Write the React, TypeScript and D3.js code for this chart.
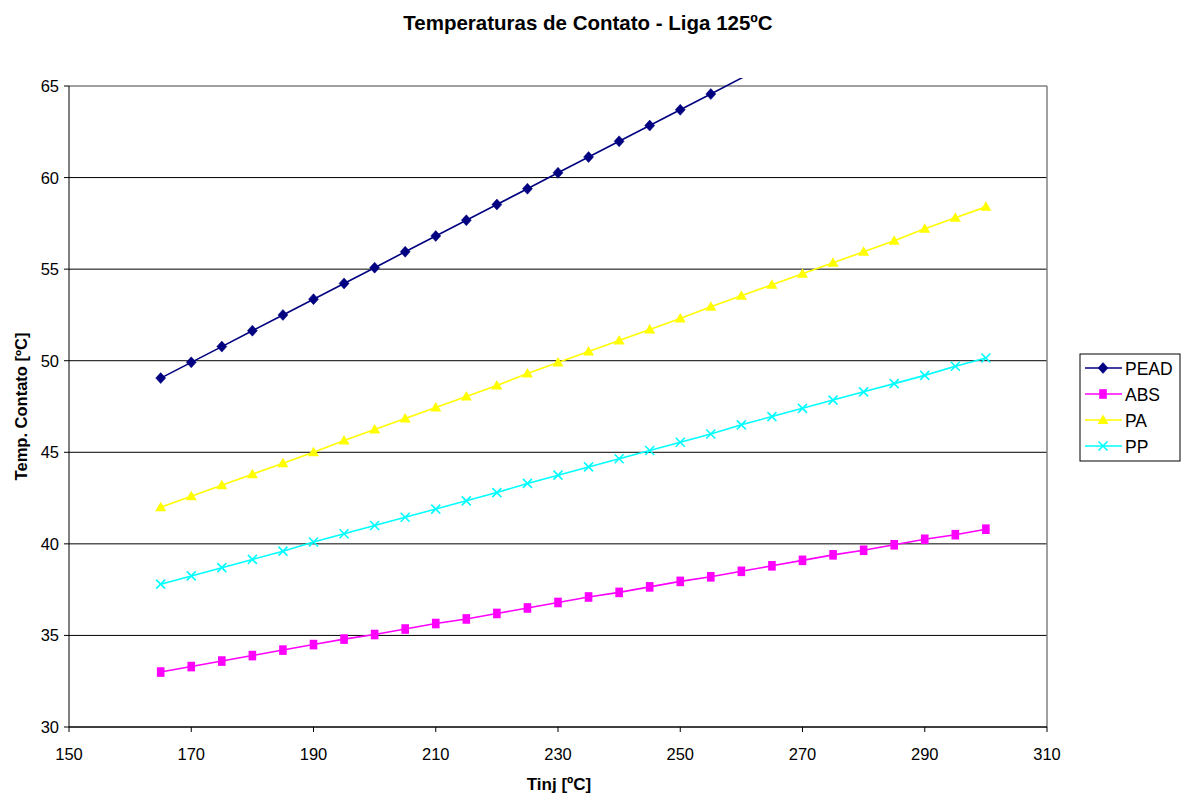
import React from "react";
import * as d3 from "d3";

// Injection temperature (°C) for each measured point
const tinj = [165, 170, 175, 180, 185, 190, 195, 200, 205, 210, 215, 220, 225, 230, 235, 240, 245, 250, 255, 260, 265, 270, 275, 280, 285, 290, 295, 300];

// Contact temperatures (°C) per polymer
const pead = [49.05, 49.91, 50.77, 51.64, 52.5, 53.36, 54.22, 55.08, 55.95, 56.81, 57.67, 58.53, 59.39, 60.26, 61.12, 61.98, 62.84, 63.7, 64.56, 65.43, 66.29, 67.15, 68.01, 68.88, 69.74, 70.6, 71.46, 72.32];
const abs = [33.0, 33.3, 33.6, 33.9, 34.2, 34.5, 34.8, 35.05, 35.35, 35.65, 35.9, 36.2, 36.5, 36.8, 37.1, 37.35, 37.65, 37.95, 38.2, 38.5, 38.8, 39.1, 39.4, 39.65, 39.95, 40.25, 40.5, 40.8];
const pa = [42.0, 42.6, 43.2, 43.8, 44.4, 45.0, 45.65, 46.25, 46.85, 47.45, 48.05, 48.65, 49.3, 49.9, 50.5, 51.1, 51.7, 52.3, 52.95, 53.55, 54.15, 54.75, 55.35, 55.95, 56.55, 57.2, 57.8, 58.4];
const pp = [37.8, 38.25, 38.7, 39.15, 39.6, 40.1, 40.55, 41.0, 41.45, 41.9, 42.35, 42.8, 43.3, 43.75, 44.2, 44.65, 45.1, 45.55, 46.0, 46.5, 46.95, 47.4, 47.85, 48.3, 48.75, 49.2, 49.7, 50.15];

const seriesNames = ["PEAD", "ABS", "PA", "PP"];
const seriesValues = [pead, abs, pa, pp];
const seriesColors = ["#000080", "#FF00FF", "#FFFF00", "#00FFFF"];
const seriesMarkers = ["diamond", "square", "triangle", "cross"];

const xTicks = [150, 170, 190, 210, 230, 250, 270, 290, 310];
const yTicks = [30, 35, 40, 45, 50, 55, 60, 65];

const W = 1188;
const H = 797;
const plot = { left: 69, right: 1047, top: 86, bottom: 727 };
const font = "'Liberation Sans', Arial, sans-serif";

function Marker({ kind, x, y, color }: { kind: string; x: number; y: number; color: string }) {
  if (kind === "diamond") {
    return <path d={`M${x},${y - 5.5}L${x + 5},${y}L${x},${y + 5.5}L${x - 5},${y}Z`} fill={color} stroke={color} strokeWidth={0.5} />;
  }
  if (kind === "square") {
    return <rect x={x - 3.8} y={y - 4.8} width={7.6} height={9.6} fill={color} />;
  }
  if (kind === "triangle") {
    return <path d={`M${x},${y - 5.5}L${x + 5.5},${y + 4}L${x - 5.5},${y + 4}Z`} fill={color} />;
  }
  return (
    <path d={`M${x - 4.5},${y - 4.5}L${x + 4.5},${y + 4.5}M${x - 4.5},${y + 4.5}L${x + 4.5},${y - 4.5}`} stroke={color} strokeWidth={1.6} fill="none" />
  );
}

export default function App() {
  const x = d3.scaleLinear().domain([150, 310]).range([plot.left, plot.right]);
  const y = d3.scaleLinear().domain([30, 65]).range([plot.bottom, plot.top]);
  const line = d3
    .line<number>()
    .x((_, i) => x(tinj[i]))
    .y((d) => y(d));

  const legend = { x: 1080, y: 354, w: 100, h: 107 };

  return (
    <svg width={W} height={H} style={{ position: "absolute", left: 0, top: 0, background: "#fff" }} fontFamily={font}>
      <defs>
        <clipPath id="plotClip">
          <rect x={plot.left} y={plot.top - 8} width={plot.right - plot.left} height={plot.bottom - plot.top + 12} />
        </clipPath>
      </defs>
      <rect width={W} height={H} fill="#fff" />

      {/* title */}
      <text x={588} y={30} textAnchor="middle" fontSize={20.5} fontWeight="bold">
        Temperaturas de Contato - Liga 125ºC
      </text>

      {/* horizontal gridlines */}
      {yTicks.filter((t) => t > 30 && t < 65).map((t) => (
        <line key={t} x1={plot.left} x2={plot.right} y1={y(t)} y2={y(t)} stroke="#000" strokeWidth={1} />
      ))}
      {/* plot frame */}
      <line x1={plot.left} x2={plot.right} y1={plot.top} y2={plot.top} stroke="#808080" strokeWidth={1.5} />
      <line x1={plot.right} x2={plot.right} y1={plot.top} y2={plot.bottom} stroke="#808080" strokeWidth={1.5} />

      {/* series */}
      <g clipPath="url(#plotClip)">
        {seriesValues.map((vals, si) => (
          <g key={seriesNames[si]}>
            <path d={line(vals) || ""} fill="none" stroke={seriesColors[si]} strokeWidth={1.6} />
            {vals.map((v, i) =>
              v <= 65 ? <Marker key={i} kind={seriesMarkers[si]} x={x(tinj[i])} y={y(v)} color={seriesColors[si]} /> : null
            )}
          </g>
        ))}
      </g>

      {/* axes */}
      <line x1={plot.left} x2={plot.left} y1={plot.top} y2={plot.bottom} stroke="#000" strokeWidth={1} />
      <line x1={plot.left} x2={plot.right} y1={plot.bottom} y2={plot.bottom} stroke="#000" strokeWidth={1.5} />
      {yTicks.map((t) => (
        <g key={t}>
          <line x1={plot.left - 5} x2={plot.left} y1={y(t)} y2={y(t)} stroke="#000" />
          <text x={plot.left - 10} y={y(t) + 6} textAnchor="end" fontSize={16.5}>
            {t}
          </text>
        </g>
      ))}
      {xTicks.map((t) => (
        <g key={t}>
          <line x1={x(t)} x2={x(t)} y1={plot.bottom} y2={plot.bottom + 5} stroke="#000" />
          <text x={x(t)} y={plot.bottom + 33} textAnchor="middle" fontSize={16.5}>
            {t}
          </text>
        </g>
      ))}

      {/* axis titles */}
      <text x={(plot.left + plot.right) / 2 + 1} y={790} textAnchor="middle" fontSize={17} fontWeight="bold">
        Tinj [ºC]
      </text>
      <text
        transform={`translate(27,${(plot.top + plot.bottom) / 2}) rotate(-90)`}
        textAnchor="middle"
        fontSize={16.5}
        fontWeight="bold"
      >
        Temp. Contato [ºC]
      </text>

      {/* legend */}
      <rect x={legend.x} y={legend.y} width={legend.w} height={legend.h} fill="#fff" stroke="#000" strokeWidth={1} />
      {seriesNames.map((name, i) => {
        const ly = legend.y + 14 + i * 26;
        return (
          <g key={name}>
            <line x1={legend.x + 5} x2={legend.x + 42} y1={ly} y2={ly} stroke={seriesColors[i]} strokeWidth={1.6} />
            <Marker kind={seriesMarkers[i]} x={legend.x + 23} y={ly} color={seriesColors[i]} />
            <text x={legend.x + 45} y={ly + 6.5} fontSize={17.5}>
              {name}
            </text>
          </g>
        );
      })}
    </svg>
  );
}
